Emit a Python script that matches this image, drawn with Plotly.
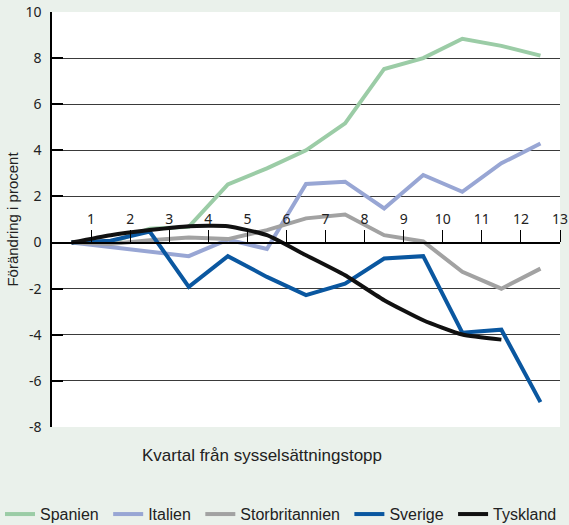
import plotly.graph_objects as go

quarters = [0.5, 1.5, 2.5, 3.5, 4.5, 5.5, 6.5, 7.5, 8.5, 9.5, 10.5, 11.5, 12.5]
spanien = [0, 0.0, 0.6, 0.68, 2.52, 3.22, 4.0, 5.17, 7.53, 8.0, 8.84, 8.53, 8.11]
italien = [0, -0.19, -0.36, -0.59, 0.13, -0.28, 2.54, 2.64, 1.48, 2.93, 2.2, 3.44, 4.3]
storbritannien = [0, -0.06, 0.1, 0.22, 0.15, 0.54, 1.05, 1.22, 0.32, 0.05, -1.27, -2.0, -1.13]
sverige = [0, 0.08, 0.48, -1.92, -0.59, -1.49, -2.28, -1.78, -0.69, -0.59, -3.91, -3.78, -6.92]
tyskland = [0, 0.32, 0.54, 0.71, 0.71, 0.32, -0.55, -1.42, -2.5, -3.37, -3.99, -4.21]

y_ticks = [-8, -6, -4, -2, 0, 2, 4, 6, 8, 10]
y_ticktext = ["-8", "-6", "-4", "-2", "0", "2", "4", "6", "8", "10"]
x_ticks = list(range(1, 14))

series = [
    ("Spanien", spanien, "#9bcca6", "linear"),
    ("Italien", italien, "#98a6d4", "linear"),
    ("Storbritannien", storbritannien, "#a2a2a2", "linear"),
    ("Sverige", sverige, "#0a57a0", "linear"),
    ("Tyskland", tyskland, "#111111", "spline"),
]

pad = "\u00a0"  # small gap after each legend label, as in the reference

fig = go.Figure()
for i, (name, vals, color, shape) in enumerate(series):
    fig.add_trace(go.Scatter(
        x=quarters[:len(vals)], y=vals, name=name + (pad if i < len(series) - 1 else ""),
        mode="lines",
        line=dict(color=color, width=4, shape=shape, smoothing=0.5),
    ))

bg = "#eaf1eb"
fig.update_layout(
    width=569, height=525,
    margin=dict(l=52, r=9, t=12, b=98, autoexpand=False),
    paper_bgcolor=bg, plot_bgcolor="white",
    font=dict(family="Liberation Sans, Arial, sans-serif", color="#222"),
    showlegend=True,
    legend=dict(orientation="h", x=-52 / 508, xanchor="left", y=-0.21, yanchor="middle",
                font=dict(size=16, color="#222"), bgcolor="rgba(0,0,0,0)",
                tracegroupgap=0, itemwidth=30),
    xaxis=dict(range=[0, 13], tickvals=x_ticks, anchor="free", position=8/18,
               side="top", showline=True, linecolor="black", linewidth=1.5,
               ticks="outside", ticklen=12, tickcolor="black", tickwidth=1,
               showgrid=False, zeroline=False, automargin=False,
               tickfont=dict(family="Noto Sans, sans-serif", size=14, color="#222")),
    yaxis=dict(range=[-8, 10], tickvals=y_ticks, ticktext=y_ticktext,
               showline=True, linecolor="black", linewidth=1.5,
               ticks="inside", ticklen=11, tickcolor="black", tickwidth=2,
               showgrid=True, gridcolor="#3a3a3a", gridwidth=1,
               zeroline=False, ticklabelstandoff=6, automargin=False,
               tickfont=dict(family="Noto Sans, sans-serif", size=14, color="#222"),
               title=dict(text="Förändring i procent", standoff=3,
                          font=dict(size=15, color="#222"))),
)

fig.add_annotation(text="Kvartal från sysselsättningstopp", xref="paper", yref="paper",
                   x=(262 - 52) / 508, y=-(455 - 427) / 415, xanchor="center", yanchor="middle",
                   showarrow=False, font=dict(size=17, color="#222"))

fig.write_html("out.html", config={"displayModeBar": False},
               post_script="document.body.style.margin='0';document.body.style.overflow='hidden';")
